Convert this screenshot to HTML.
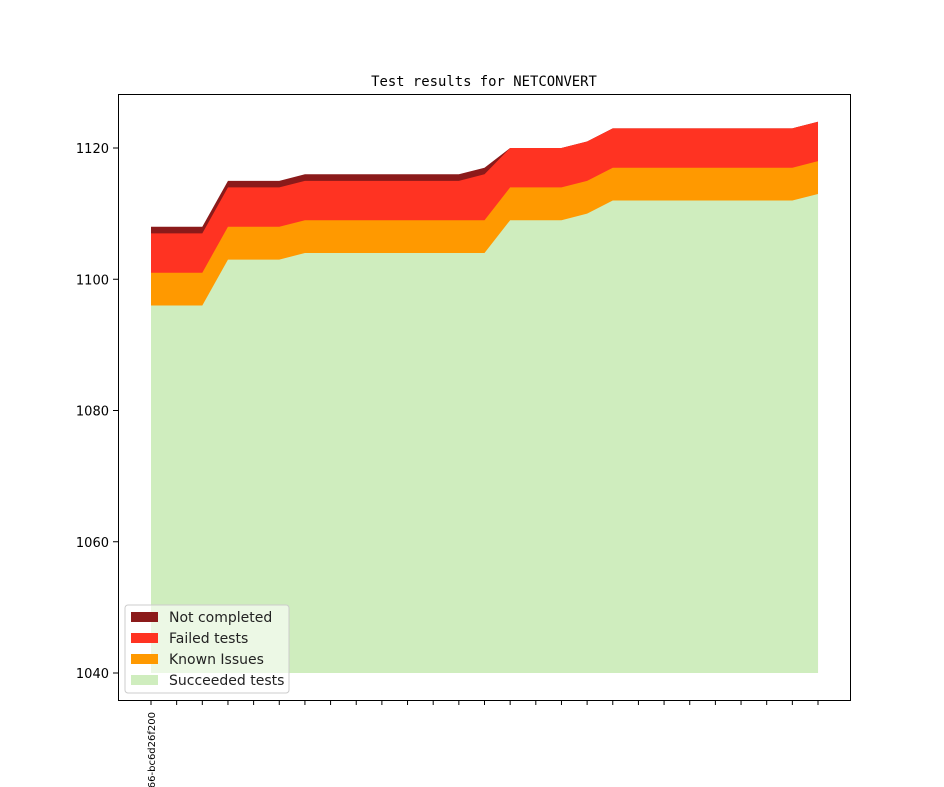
<!DOCTYPE html>
<html><head><style>html,body{margin:0;background:#fff;width:944px;height:787px;overflow:hidden}svg{display:block}</style></head>
<body>
<svg id="s" width="944" height="787" xmlns="http://www.w3.org/2000/svg" font-family="DejaVu Sans, Liberation Sans, sans-serif" overflow="hidden">
<rect width="944" height="787" fill="#fff"/>
<g id="areas"></g>
<rect x="118.5" y="94.5" width="732" height="606" fill="none" stroke="#000" stroke-width="1"/>
<g id="ticks" font-size="13"></g>
<text x="484" y="86" text-anchor="middle" font-family="DejaVu Sans Mono, Liberation Mono, monospace" font-size="13.9">Test results for NETCONVERT</text>
<text x="0" y="0" font-size="10" text-anchor="end" transform="translate(155,712) rotate(-90)">09c9f1e9f66-bc6d26f200</text>
<g>
<rect x="125" y="605" width="164" height="88" rx="3" fill="#fff" fill-opacity="0.6" stroke="#ccc"/>
<rect x="131" y="612" width="27" height="10" fill="#8b1a1a"/>
<rect x="131" y="633" width="27" height="10" fill="#ff3322"/>
<rect x="131" y="654" width="27" height="10" fill="#ff9900"/>
<rect x="131" y="675" width="27" height="10" fill="#cfedbe"/>
<g font-size="14" fill="#222">
<text x="169" y="622">Not completed</text>
<text x="169" y="643">Failed tests</text>
<text x="169" y="664">Known Issues</text>
<text x="169" y="685">Succeeded tests</text>
</g>
</g>
<script>
(function(){
var ns="http://www.w3.org/2000/svg";
var rows=[];
function add(a,b,v){for(var i=a;i<=b;i++)rows[i]=v;}
add(0,2,[1096,1101,1107,1108]);add(3,5,[1103,1108,1114,1115]);add(6,12,[1104,1109,1115,1116]);
add(13,13,[1104,1109,1116,1117]);add(14,16,[1109,1114,1120,1120]);add(17,17,[1110,1115,1121,1121]);
add(18,25,[1112,1117,1123,1123]);add(26,26,[1113,1118,1124,1124]);
function X(i){return 151+25.654*i;}function Y(v){return 673-(v-1040)*6.5625;}
var cols=["#cfedbe","#ff9900","#ff3322","#8b1a1a"];
var g=document.getElementById("areas");
for(var k=3;k>=0;k--){var pts=[];
for(var i=0;i<27;i++)pts.push(X(i)+","+Y(rows[i][k]));
pts.push(X(26)+","+Y(1040));pts.push(X(0)+","+Y(1040));
var p=document.createElementNS(ns,"polygon");p.setAttribute("points",pts.join(" "));p.setAttribute("fill",cols[k]);g.appendChild(p);}
var t=document.getElementById("ticks");
for(var i=0;i<27;i++){var l=document.createElementNS(ns,"line");var x=X(i);
l.setAttribute("x1",x);l.setAttribute("x2",x);l.setAttribute("y1",700);l.setAttribute("y2",705);l.setAttribute("stroke","#000");t.appendChild(l);}
[1040,1060,1080,1100,1120].forEach(function(v){var y=Y(v);var l=document.createElementNS(ns,"line");
l.setAttribute("x1",113);l.setAttribute("x2",118);l.setAttribute("y1",y);l.setAttribute("y2",y);l.setAttribute("stroke","#000");t.appendChild(l);
var tx=document.createElementNS(ns,"text");tx.setAttribute("x",109);tx.setAttribute("y",y+5);tx.setAttribute("text-anchor","end");tx.textContent=v;t.appendChild(tx);});
})();
</script>
</svg>
</body></html>
